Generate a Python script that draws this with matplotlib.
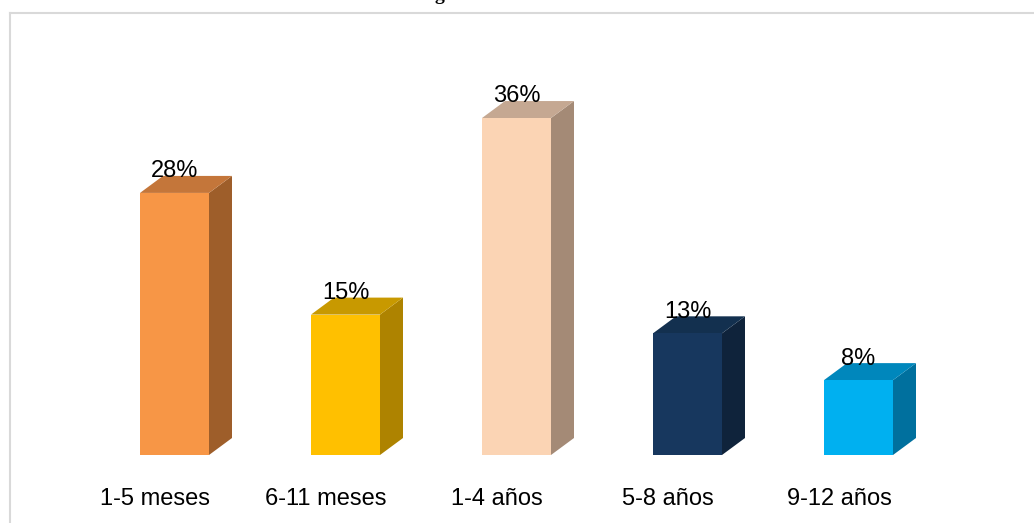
import matplotlib
matplotlib.use("Agg")
import matplotlib.pyplot as plt
from matplotlib.patches import Polygon, Rectangle

categories = ["1-5 meses", "6-11 meses", "1-4 años", "5-8 años", "9-12 años"]
values = [28, 15, 36, 13, 8]
labels = ["28%", "15%", "36%", "13%", "8%"]
front_colors = ["#F79646", "#FFC000", "#FBD4B4", "#17375E", "#00B0F0"]
top_colors = ["#C4763A", "#C89900", "#C5A892", "#13304F", "#0087BC"]
side_colors = ["#9E5E2A", "#AE8300", "#A48A76", "#0F233B", "#00709E"]

W, H = 1034, 523
fig = plt.figure(figsize=(W / 100, H / 100), dpi=100)
ax = fig.add_axes([0, 0, 1, 1])
ax.set_axis_off()

# pixel mapping: index 0 -> x=174.5 px, spacing 171 px; baseline y=455 px, 9.36 px per %
sp = 171.0
ppu = 9.36
ax.set_xlim(-174.5 / sp, (W - 174.5) / sp)
ax.set_ylim(-(H - 455) / ppu, 455 / ppu)

bw = 69 / sp
dx = 23 / sp
dy = 17 / ppu

for i, v in enumerate(values):
    x0, x1 = i - bw / 2, i + bw / 2
    ax.add_patch(Polygon([(x1, 0), (x1 + dx, dy), (x1 + dx, v + dy), (x1, v)],
                         closed=True, facecolor=side_colors[i], edgecolor="none"))
    ax.add_patch(Polygon([(x0, v), (x1, v), (x1 + dx, v + dy), (x0 + dx, v + dy)],
                         closed=True, facecolor=top_colors[i], edgecolor="none"))
    ax.add_patch(Rectangle((x0, 0), bw, v, facecolor=front_colors[i], edgecolor="none"))
    ax.text(i, v + dy - 0.15, labels[i], ha="center", va="baseline",
            fontsize=17, family="Liberation Sans", color="black")
    ax.text(i - 19.5 / sp, -(505 - 455) / ppu, categories[i], ha="center", va="baseline",
            fontsize=17, family="Liberation Sans", color="black")

# chart frame
fig.add_artist(plt.Line2D([9.5 / W, 9.5 / W], [0, 1 - 13 / H], transform=fig.transFigure,
                          color="#D9D9D9", lw=1.5))
fig.add_artist(plt.Line2D([9.5 / W, 1], [1 - 13 / H, 1 - 13 / H], transform=fig.transFigure,
                          color="#D9D9D9", lw=1.5))

# clipped title fragment at the very top (only the descender shows, as in the reference)
fig.text(439 / W, 1 + 0.5 / H, "g", family="Liberation Serif", fontsize=14,
         ha="center", va="baseline", fontweight="bold")

fig.savefig("out.png", dpi=100)
